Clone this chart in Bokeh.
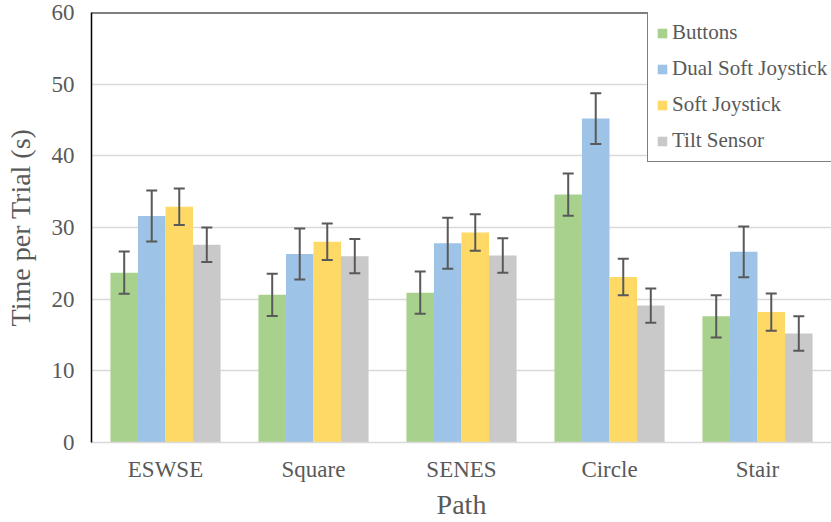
from bokeh.plotting import figure
from bokeh.models import FactorRange, ColumnDataSource, FixedTicker, Span, Legend
from bokeh.transform import dodge
from bokeh.embed import file_html
from bokeh.resources import INLINE

# Mean time per trial (s) for each path and input method, with error half-widths
paths = ["ESWSE", "Square", "SENES", "Circle", "Stair"]
series_names = ["Buttons", "Dual Soft Joystick", "Soft Joystick", "Tilt Sensor"]
buttons = [23.7, 20.6, 20.9, 34.6, 17.6]
dual_soft_joystick = [31.6, 26.3, 27.8, 45.2, 26.6]
soft_joystick = [32.9, 28.0, 29.3, 23.1, 18.2]
tilt_sensor = [27.6, 26.0, 26.1, 19.1, 15.2]
buttons_err = [2.95, 2.95, 2.95, 2.95, 2.95]
dual_soft_joystick_err = [3.55, 3.55, 3.55, 3.55, 3.55]
soft_joystick_err = [2.55, 2.55, 2.55, 2.55, 2.6]
tilt_sensor_err = [2.4, 2.4, 2.4, 2.4, 2.4]
y_ticks = [0, 10, 20, 30, 40, 50, 60]

colors = ["#A9D18E", "#9DC3E6", "#FFD966", "#C9C9C9"]
values = [buttons, dual_soft_joystick, soft_joystick, tilt_sensor]
errors = [buttons_err, dual_soft_joystick_err, soft_joystick_err, tilt_sensor_err]

FONT = "Liberation Serif"
TEXT = "#595959"

p = figure(
    x_range=FactorRange(*paths, range_padding=0),
    y_range=(0, 60),
    width=831, height=522,
    output_backend="svg", toolbar_location=None,
    min_border_left=91, min_border_right=0, min_border_top=12, min_border_bottom=80,
)
p.outline_line_color = None

bar_w = 0.186
offsets = [-1.5 * bar_w, -0.5 * bar_w, 0.5 * bar_w, 1.5 * bar_w]

renderers = []
for name, vals, errs, col, off in zip(series_names, values, errors, colors, offsets):
    src = ColumnDataSource(dict(
        path=paths, value=vals,
        lower=[v - e for v, e in zip(vals, errs)],
        upper=[v + e for v, e in zip(vals, errs)],
    ))
    xs = dodge("path", off, range=p.x_range)
    r = p.vbar(x=xs, top="value", width=bar_w, source=src,
               fill_color=col, line_color=None)
    renderers.append((name, [r]))
    p.segment(x0=xs, y0="lower", x1=xs, y1="upper", source=src,
              line_color="#595959", line_width=2)
    p.scatter(x=xs, y="upper", source=src, marker="dash", size=11,
              line_color="#595959", line_width=2)
    p.scatter(x=xs, y="lower", source=src, marker="dash", size=11,
              line_color="#595959", line_width=2)

# black top border of the plotting area
p.add_layout(Span(location=60, dimension="width", line_color="black", line_width=2))

# axes
p.yaxis.ticker = FixedTicker(ticks=y_ticks)
p.yaxis.axis_line_color = "black"
p.yaxis.axis_line_width = 1.5
p.yaxis.major_tick_line_color = None
p.yaxis.minor_tick_line_color = None
p.yaxis.major_label_standoff = 11
p.yaxis.major_label_text_font = FONT
p.yaxis.major_label_text_font_size = "23px"
p.yaxis.major_label_text_color = TEXT
p.yaxis.axis_label = "Time per Trial (s)"
p.yaxis.axis_label_text_font = FONT
p.yaxis.axis_label_text_font_size = "28px"
p.yaxis.axis_label_text_font_style = "normal"
p.yaxis.axis_label_text_color = TEXT
p.yaxis.axis_label_standoff = 13

p.xaxis.axis_line_color = "#d9d9d9"
p.xaxis.axis_line_width = 1.5
p.xaxis.major_tick_line_color = None
p.xaxis.minor_tick_line_color = None
p.xaxis.major_label_standoff = 8
p.xaxis.major_label_text_font = FONT
p.xaxis.major_label_text_font_size = "23px"
p.xaxis.major_label_text_color = TEXT
p.xaxis.axis_label = "Path"
p.xaxis.axis_label_text_font = FONT
p.xaxis.axis_label_text_font_size = "28px"
p.xaxis.axis_label_text_font_style = "normal"
p.xaxis.axis_label_text_color = TEXT
p.xaxis.axis_label_standoff = 4

p.xgrid.grid_line_color = None
p.ygrid.ticker = FixedTicker(ticks=y_ticks)
p.ygrid.grid_line_color = "#d9d9d9"
p.ygrid.grid_line_width = 1.5

legend = Legend(
    items=renderers, location=(556, 280),
    border_line_color="black", border_line_width=1.5,
    background_fill_color="white", background_fill_alpha=1,
    label_text_font=FONT, label_text_font_size="21px", label_text_color=TEXT,
    glyph_width=12, glyph_height=12, label_standoff=4,
    spacing=11, padding=8, margin=0,
)
p.add_layout(legend)

open("out.html", "w").write(file_html(p, INLINE))
